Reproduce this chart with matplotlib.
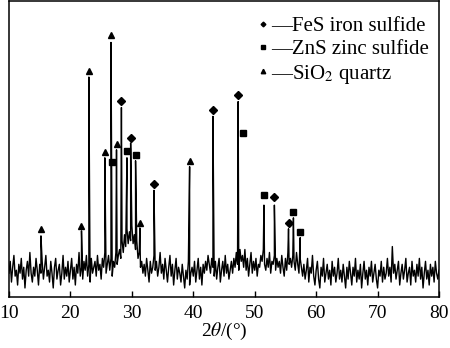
import numpy as np
import matplotlib.pyplot as plt
from matplotlib.lines import Line2D

plt.rcParams['font.family'] = ['Liberation Serif', 'DejaVu Serif']
plt.rcParams['mathtext.fontset'] = 'stix'

# background scan, one value every 0.2 deg from 10 to 80 (relative intensity)
x_start, x_step = 10.0, 0.2
background = [
    8, 12, 5, 10, 14, 7, 9, 4, 11, 8,
    13, 6, 10, 3, 9, 12, 7, 15, 8, 5,
    10, 7, 13, 9, 4, 11, 8, 12, 6, 10,
    14, 7, 9, 5, 12, 8, 3, 10, 13, 6,
    9, 11, 4, 8, 14, 6, 10, 7, 12, 5,
    9, 13, 6, 10, 4, 11, 8, 15, 7, 10,
    6, 12, 9, 14, 7, 11, 5, 13, 8, 10,
    12, 7, 14, 9, 11, 6, 13, 10, 15, 8,
    11, 14, 9, 13, 7, 12, 10, 15, 11, 14,
    16, 13, 19, 15, 21, 17, 23, 18, 22, 19,
    24, 18, 21, 16, 19, 13, 15, 10, 12, 8,
    11, 7, 13, 9, 5, 12, 8, 10, 14, 9,
    12, 7, 10, 15, 8, 11, 6, 13, 9, 5,
    10, 14, 7, 11, 4, 9, 13, 6, 10, 8,
    5, 11, 7, 3, 9, 6, 12, 4, 8, 10,
    7, 12, 5, 9, 13, 6, 10, 4, 11, 8,
    12, 9, 14, 11, 8, 13, 10, 7, 12, 6,
    10, 13, 5, 9, 12, 7, 14, 8, 11, 6,
    9, 12, 8, 13, 10, 15, 11, 9, 16, 12,
    14, 10, 16, 9, 13, 7, 11, 15, 8, 12,
    9, 13, 7, 11, 10, 14, 12, 16, 11, 9,
    13, 10, 15, 8, 12, 11, 14, 9, 13, 10,
    12, 8, 14, 10, 7, 13, 9, 15, 11, 13,
    10, 14, 12, 9, 15, 11, 8, 13, 10, 7,
    11, 6, 9, 13, 5, 10, 8, 14, 7, 4,
    9, 12, 6, 3, 10, 7, 13, 5, 8, 11,
    6, 9, 4, 12, 7, 10, 5, 8, 13, 6,
    9, 5, 11, 7, 3, 10, 6, 12, 8, 4,
    10, 7, 13, 5, 9, 6, 11, 3, 8, 12,
    6, 9, 4, 10, 7, 12, 5, 8, 11, 6,
    3, 9, 7, 12, 5, 10, 6, 8, 13, 7,
    10, 5, 17, 8, 11, 6, 9, 12, 4, 8,
    11, 6, 9, 13, 5, 8, 10, 4, 12, 7,
    9, 5, 11, 7, 13, 6, 10, 3, 8, 12,
    6, 9, 4, 11, 7, 10, 5, 12, 8, 6,
    9,
]

# diffraction peak tops
peak_x = [15.2, 21.8, 23.0, 25.6, 26.6, 27.5, 28.3, 29.2, 29.8, 30.6, 31.3,
          33.6, 39.4, 43.2, 47.3, 51.5, 53.2, 55.5, 56.3, 57.4]
peak_y = [20.6, 22.3, 74.3, 47.0, 86.0, 49.7, 64.0, 47.0, 52.0, 46.0, 23.3,
          36.0, 44.0, 61.0, 66.0, 31.0, 31.0, 23.0, 26.7, 20.0]

# phase markers (position, height)
fes_x = [28.3, 29.8, 33.6, 43.2, 47.3, 53.2, 55.5]
fes_y = [66.2, 53.8, 38.2, 63.0, 68.2, 33.7, 24.9]
zns_x = [26.75, 29.2, 30.6, 48.1, 51.5, 56.3, 57.4]
zns_y = [45.5, 49.3, 48.0, 55.3, 34.5, 28.8, 21.9]
sio2_x = [15.2, 21.8, 23.0, 25.6, 26.6, 27.5, 31.3, 39.4]
sio2_y = [23.0, 24.0, 76.4, 49.0, 88.5, 51.7, 25.0, 46.0]

xticks = [10, 20, 30, 40, 50, 60, 70, 80]

grid_x = x_start + x_step * np.arange(len(background))
x_all = np.concatenate([grid_x, peak_x])
y_all = np.concatenate([background, peak_y])
order = np.argsort(x_all, kind='stable')

fig = plt.figure(figsize=(4.5, 3.48), dpi=100)
ax = fig.add_axes([0.02, 0.147, 0.9556, 0.85])
ax.plot(x_all[order], y_all[order], color='black', lw=1.0)

ax.plot(fes_x, fes_y, 'D', color='black', ms=3.6, ls='none')
ax.plot(zns_x, zns_y, 's', color='black', ms=4.6, ls='none')
ax.plot(sio2_x, sio2_y, '^', color='black', ms=4.8, ls='none')

ax.set_xlim(10, 80)
ax.set_ylim(0, 100)
ax.set_xticks(xticks)
ax.set_yticks([])
ax.tick_params(axis='x', direction='in', length=4, width=1, labelsize=14, pad=6)
for s in ax.spines.values():
    s.set_linewidth(1.1)
ax.set_xlabel('2$\\theta$/(°)', fontsize=14, labelpad=-1)

handles = [Line2D([], [], marker='D', color='black', ls='none', ms=2.4),
           Line2D([], [], marker='s', color='black', ls='none', ms=3.2),
           Line2D([], [], marker='^', color='black', ls='none', ms=3.2)]
labels = ['\u2014FeS iron sulfide', '\u2014ZnS zinc sulfide', '\u2014SiO$_2$ quartz']
ax.legend(handles, labels, loc='upper left', frameon=False, fontsize=15,
          handlelength=0.5, handletextpad=0.15, labelspacing=0.17,
          borderaxespad=0.0, borderpad=0.0, bbox_to_anchor=(0.578, 0.948))

fig.savefig('out.png', dpi=100)
